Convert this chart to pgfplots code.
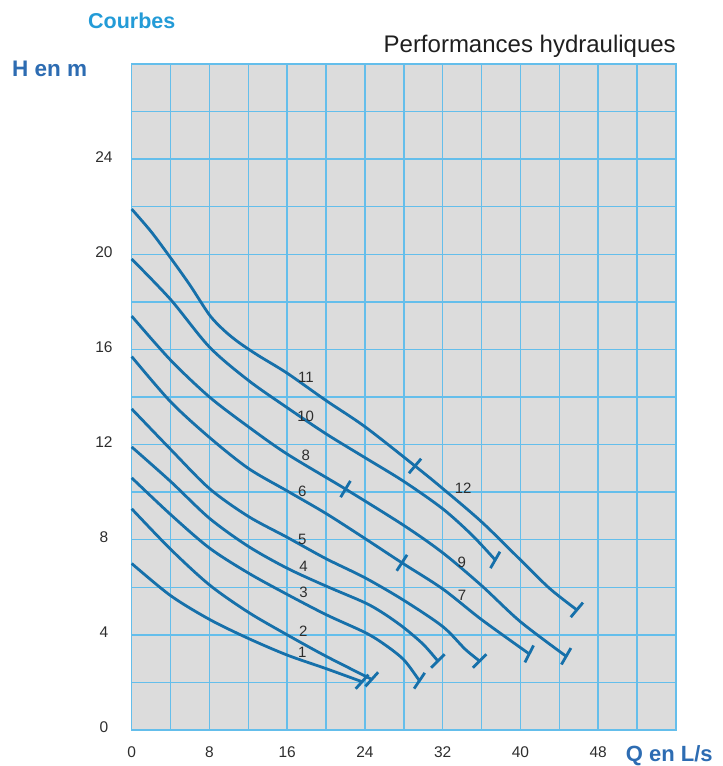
\documentclass[border=0pt]{standalone}
\usepackage{fontspec}
\setmainfont{Liberation Sans}
\usepackage{pgfplots}
\pgfplotsset{compat=1.18}
\definecolor{gridblue}{RGB}{100,190,235}
\definecolor{bggray}{RGB}{220,220,220}
\definecolor{curveblue}{RGB}{22,112,170}
\definecolor{titleblue}{RGB}{35,155,215}
\definecolor{labelblue}{RGB}{45,108,178}
\definecolor{txtgray}{RGB}{45,45,45}
\pgfplotsset{
  curve/.style={curveblue, line width=2.8pt, smooth, no marks},
  tk/.style={only marks, mark=|, mark size=9.5pt, mark options={curveblue, solid, line width=2.8pt, rotate=#1}},
}
\tikzset{lbl/.style={font=\fontsize{15}{18}\selectfont, text=txtgray, inner sep=0pt}}
\begin{document}
\begin{tikzpicture}
\path[use as bounding box] (-131.7pt,-36pt) rectangle (591.3pt,730pt);
\begin{axis}[
  at={(0pt,0pt)}, anchor=south west,
  scale only axis, width=544.3pt, height=666pt,
  xmin=0, xmax=56, ymin=0, ymax=28,
  xtick={0,8,...,48}, ytick={0,4,...,24},
  minor xtick={4,12,...,52}, minor ytick={2,6,...,26},
  grid=both,
  grid style={gridblue, line width=1.5pt},
  minor grid style={gridblue, line width=1.5pt},
  major tick length=0pt, minor tick length=0pt,
  axis line style={gridblue, line width=1.5pt},
  axis background/.style={fill=bggray},
  /pgf/number format/assume math mode=true,
  ticklabel style={font=\fontsize{15.5}{18}\selectfont, text=txtgray, inner sep=0pt},
  xticklabel style={anchor=center, yshift=-22.5pt},
  yticklabel style={anchor=center, xshift=-27.7pt, yshift=2.5pt},
  clip=false,
]
% 11 -> 12
\addplot[curve] coordinates {(0,21.9) (2,20.95) (4,19.85) (6,18.7) (8,17.45) (9.5,16.8) (11,16.3) (13,15.75) (16,15.0) (20,13.85) (24,12.75) (29.15,11.1) (32,10.15) (36,8.75) (40,7.15) (43,5.95) (45.8,5.05)};
\addplot[tk=-40] coordinates {(29.15,11.1) (45.8,5.05)};
% 10
\addplot[curve] coordinates {(0,19.8) (4,18.1) (8,16.1) (12,14.7) (16,13.55) (20,12.45) (24,11.45) (28,10.45) (32,9.3) (35,8.2) (37.4,7.15)};
\addplot[tk=-30] coordinates {(37.4,7.15)};
% 8 -> 9
\addplot[curve] coordinates {(0,17.4) (4,15.55) (8,14.0) (12,12.75) (16,11.6) (22,10.13) (28,8.6) (32,7.45) (36,6.07) (40,4.55) (44.7,3.1)};
\addplot[tk=-31] coordinates {(22,10.13)};
\addplot[tk=-30] coordinates {(44.7,3.1)};
% 6 -> 7
\addplot[curve] coordinates {(0,15.7) (4,13.8) (8,12.3) (12,11.0) (16,10.05) (20,9.1) (24,8.05) (27.8,7.03) (32,5.93) (36,4.64) (40.9,3.2)};
\addplot[tk=-33] coordinates {(27.8,7.03)};
\addplot[tk=-27] coordinates {(40.9,3.2)};
% 5
\addplot[curve] coordinates {(0,13.5) (4,11.8) (8,10.15) (12,8.98) (16,8.1) (20,7.2) (24,6.4) (28,5.45) (32,4.35) (34.3,3.4) (35.8,2.9)};
\addplot[tk=-45] coordinates {(35.8,2.9)};
% 4
\addplot[curve] coordinates {(0,11.9) (4,10.45) (8,8.9) (12,7.72) (16,6.8) (20,6.05) (24,5.35) (26,4.88) (28,4.3) (30,3.6) (31.5,2.9)};
\addplot[tk=-45] coordinates {(31.5,2.9)};
% 3
\addplot[curve] coordinates {(0,10.6) (4,9.06) (8,7.65) (12,6.6) (16,5.7) (20,4.85) (24,4.1) (26,3.6) (28,2.95) (29.6,2.07)};
\addplot[tk=-34] coordinates {(29.6,2.07)};
% 2
\addplot[curve] coordinates {(0,9.3) (4,7.6) (8,6.1) (12,4.95) (16,4.0) (20,3.1) (24.7,2.13)};
\addplot[tk=-42] coordinates {(24.7,2.13)};
% 1
\addplot[curve] coordinates {(0,7.0) (4,5.65) (8,4.65) (12,3.85) (16,3.15) (20,2.58) (23.7,2.03)};
\addplot[tk=-42] coordinates {(23.7,2.03)};
% curve labels
\node[lbl] at (axis cs:17.93,14.82) {11};
\node[lbl] at (axis cs:17.90,13.20) {10};
\node[lbl] at (axis cs:17.90,11.53) {8};
\node[lbl] at (axis cs:17.55,10.03) {6};
\node[lbl] at (axis cs:17.55,8.02) {5};
\node[lbl] at (axis cs:17.69,6.88) {4};
\node[lbl] at (axis cs:17.69,5.80) {3};
\node[lbl] at (axis cs:17.65,4.17) {2};
\node[lbl] at (axis cs:17.55,3.25) {1};
\node[lbl] at (axis cs:34.10,10.18) {12};
\node[lbl] at (axis cs:33.96,7.05) {9};
\node[lbl] at (axis cs:34.00,5.65) {7};
\end{axis}
\node[anchor=base west, inner sep=0pt, text=titleblue, font=\fontsize{21.5}{24}\selectfont\bfseries] at (-43.7pt,701pt) {Courbes};
\node[anchor=base east, inner sep=0pt, text=black!88, font=\fontsize{24}{28}\selectfont] at (544.3pt,677pt) {Performances hydrauliques};
\node[anchor=base west, inner sep=0pt, text=labelblue, font=\fontsize{22.5}{26}\selectfont\bfseries] at (-119.7pt,653.3pt) {H en m};
\node[anchor=base west, inner sep=0pt, text=labelblue, font=\fontsize{22}{26}\selectfont\bfseries] at (494pt,-31pt) {Q en L/s};
\end{tikzpicture}
\end{document}
